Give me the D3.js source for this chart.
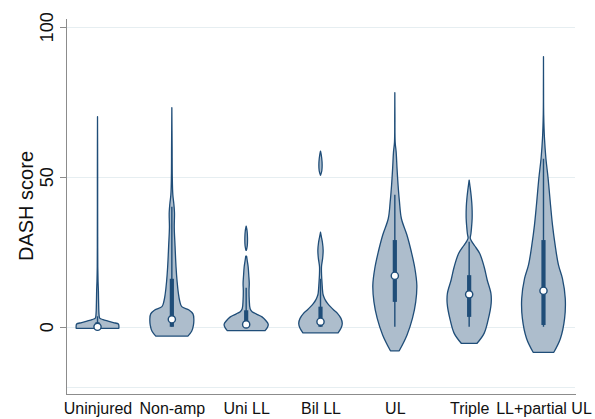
<!DOCTYPE html>
<html lang="en">
  <head>
    <meta charset="utf-8">
    <title>DASH score violins</title>
    <script src="https://d3js.org/d3.v7.min.js"></script>
    <style>
      body { margin: 0; background: #fff; }
      text { font-family: "Liberation Sans", Arial, sans-serif; fill: #111; }
      .axis path, .axis line { stroke: #8c8c8c; stroke-width: 1.2; shape-rendering: crispEdges; }
      .grid { stroke: #e6eef1; stroke-width: 1; shape-rendering: crispEdges; }
    </style>
  </head>
  <body>
    <script>
    'use strict'
    let categories = ["Uninjured", "Non-amp", "Uni LL", "Bil LL", "UL", "Triple", "LL+partial UL"]
    let yTicks = [0, 50, 100]
    let gridValues = [-20, 0, 50, 100]

    // density profiles: [score, relative half-width], null width = gap
    let densUninjured = [[-0.5, 0.97], [0.4, 0.97], [0.9, 0.95], [1.4, 0.72], [1.9, 0.48], [2.4, 0.25],
      [2.9, 0.1], [4, 0.07], [8, 0.05], [12, 0.04], [15, 0.025], [20, 0.012], [30, 0.008], [40, 0.006],
      [50, 0.006], [60, 0.004], [70, 0]]
    let densNonAmp = [[-3.1, 0.73], [-1.5, 0.9], [0.5, 0.98], [2.5, 1], [4.3, 0.96], [5.6, 0.78], [6.7, 0.45],
      [8.5, 0.36], [11, 0.3], [15, 0.24], [20, 0.19], [27, 0.145], [33, 0.11], [38, 0.12], [41, 0.09],
      [44, 0.045], [50, 0.02], [60, 0.012], [73, 0]]
    let densUniLL = [[-1.3, 0.86], [0, 0.98], [0.9, 1], [2, 0.9], [3.3, 0.72], [4.3, 0.45], [5, 0.27], [6, 0.18],
      [9, 0.14], [12, 0.13], [14.5, 0.14], [17, 0.12], [20, 0.09], [22, 0.05], [23.5, 0.02], [24.5, null],
      [25.5, 0.01], [27, 0.05], [29.5, 0.06], [32, 0.04], [33.5, 0]]
    let densBilLL = [[-2, 0.8], [-0.5, 0.93], [1.1, 0.99], [2.8, 0.93], [4.4, 0.78], [5.6, 0.6], [6.7, 0.45],
      [7.8, 0.32], [8.9, 0.22], [10, 0.15], [11, 0.11], [14.5, 0.07], [17, 0.05], [20, 0.045], [23, 0.1],
      [25.5, 0.12], [28, 0.09], [30, 0.04], [31.5, 0], [40, null], [50.5, 0], [52, 0.06], [55, 0.07],
      [57.5, 0.03], [58.5, 0]]
    let densUL = [[-8, 0.2], [-2.8, 0.55], [2.8, 0.8], [8.3, 0.95], [13.9, 1], [19.5, 0.91], [25, 0.75],
      [30.6, 0.55], [36, 0.3], [41.7, 0.21], [47, 0.15], [52.8, 0.1], [58.3, 0.06], [61.6, 0.015],
      [70, 0.005], [78, 0]]
    let densTriple = [[-5.5, 0.36], [-2.2, 0.68], [2.2, 0.86], [7.8, 1], [11.1, 0.99], [15.6, 0.82], [20, 0.68],
      [24.4, 0.48], [27, 0.25], [28.3, 0.13], [29.5, 0.05], [31, 0.08], [33.3, 0.11], [36, 0.135],
      [40, 0.13], [43, 0.1], [45.6, 0.06], [48.9, 0]]
    let densPartial = [[-8.5, 0.47], [-3.9, 0.77], [2.8, 0.96], [9.4, 0.99], [16.1, 0.86], [20.6, 0.68],
      [27.2, 0.53], [33.9, 0.41], [40.6, 0.32], [49.5, 0.21], [56.1, 0.11], [62.8, 0.045], [70.6, 0.01],
      [80, 0.003], [90, 0]]
    let densities = [densUninjured, densNonAmp, densUniLL, densBilLL, densUL, densTriple, densPartial]

    // box summaries per category
    let medians = [0, 2.5, 0.8, 1.7, 17, 10.8, 12]
    let q1 = [0, 0, 0, 0, 8.3, 3.3, 0.6]
    let q3 = [1.5, 16, 5.5, 6.7, 28.9, 17.2, 28.9]
    let whiskLo = [0, 0, 0, 0, 0, 0, 0]
    let whiskHi = [3.5, 40, 13, 16, 44, 28.3, 56]

    let w = 595
    let h = 419
    let fill = "#adbdcc"
    let navy = "#1f4d78"

    let svg = d3.select("body").append("svg")
      .attr("width", w)
      .attr("height", h)

    let x = d3.scalePoint()
      .domain(categories)
      .range([66, 575])
      .padding(0.424)
    let y = d3.scaleLinear()
      .domain([-22.4, 102.9])
      .range([394, 18])
    let wScale = d3.scaleLinear()
      .domain([0, 1])
      .range([0, 22])

    svg.selectAll("line.grid")
      .data(gridValues)
      .enter()
      .append("line")
      .attr("class", "grid")
      .attr("x1", 66)
      .attr("x2", 575)
      .attr("y1", (d) => Math.round(y(d)) + 0.5)
      .attr("y2", (d) => Math.round(y(d)) + 0.5)

    let violins = svg.selectAll("g.violin")
      .data(categories)
      .enter()
      .append("g")
      .attr("class", "violin")

    violins.append("path")
      .attr("d", (c, i) => d3.area()
        .defined((d) => d[1] !== null)
        .y((d) => y(d[0]))
        .x0((d) => x(c) - wScale(d[1]))
        .x1((d) => x(c) + wScale(d[1]))
        .curve(d3.curveCatmullRom.alpha(0.5))(densities[i]))
      .attr("fill", fill)
      .attr("stroke", navy)
      .attr("stroke-width", 1.3)
      .attr("stroke-linejoin", "round")

    violins.append("line")
      .attr("x1", (c) => x(c))
      .attr("x2", (c) => x(c))
      .attr("y1", (c, i) => y(whiskLo[i]))
      .attr("y2", (c, i) => y(whiskHi[i]))
      .attr("stroke", navy)
      .attr("stroke-width", 1.4)

    violins.append("line")
      .attr("x1", (c) => x(c))
      .attr("x2", (c) => x(c))
      .attr("y1", (c, i) => y(q1[i]))
      .attr("y2", (c, i) => y(q3[i]))
      .attr("stroke", navy)
      .attr("stroke-width", 4.2)

    violins.append("circle")
      .attr("cx", (c) => x(c))
      .attr("cy", (c, i) => y(medians[i]))
      .attr("r", 3.6)
      .attr("fill", "#fff")
      .attr("stroke", navy)
      .attr("stroke-width", 1.4)

    let yAxis = svg.append("g")
      .attr("class", "axis")
      .attr("transform", "translate(66,0)")
      .call(d3.axisLeft(y).tickValues(yTicks).tickSize(6).tickSizeOuter(0))
    yAxis.selectAll("text")
      .attr("x", null)
      .attr("dy", null)
      .attr("transform", "translate(-13,0) rotate(-90)")
      .attr("text-anchor", "middle")
      .style("font-size", "18px")
      .style("fill", "#111")

    let xAxis = svg.append("g")
      .attr("class", "axis")
      .attr("transform", "translate(0,394)")
      .call(d3.axisBottom(x).tickSize(0).tickSizeOuter(0).tickPadding(9))
    xAxis.selectAll("text")
      .style("font-size", "16px")
      .style("fill", "#111")

    svg.append("text")
      .attr("transform", "translate(33,206) rotate(-90)")
      .attr("text-anchor", "middle")
      .style("font-size", "20px")
      .text("DASH score")
    </script>
  </body>
</html>
